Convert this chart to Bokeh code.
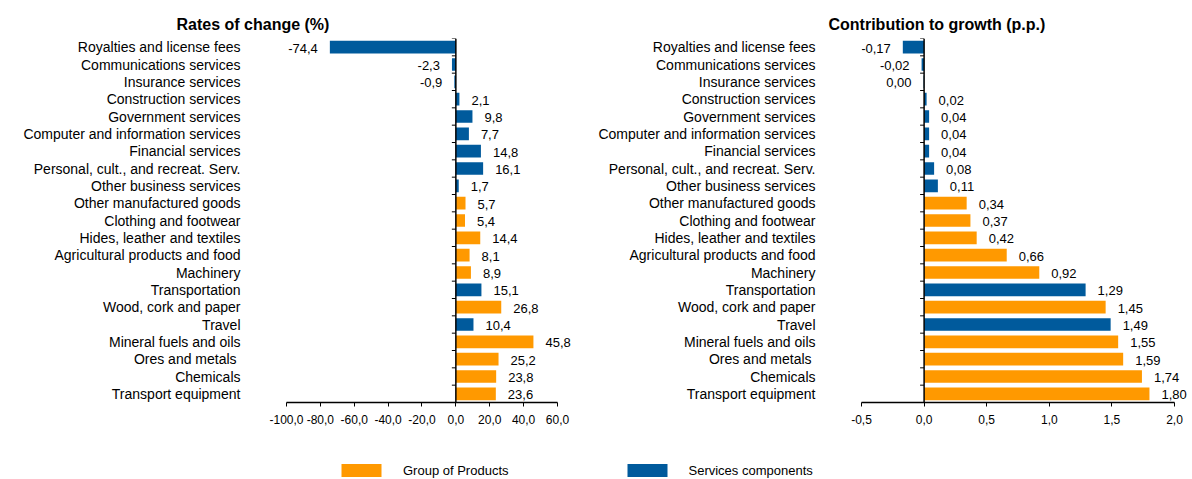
import numpy as np
from bokeh.plotting import figure
from bokeh.models import (ColumnDataSource, FixedTicker, Range1d, Span, LabelSet,
                          Legend, LegendItem)
from bokeh.layouts import column, row
from bokeh.core.properties import value
from bokeh.embed import file_html
from bokeh.resources import INLINE

# ---------------- data ----------------
categories = ["Royalties and license fees", "Communications services", "Insurance services",
              "Construction services", "Government services", "Computer and information services",
              "Financial services", "Personal, cult., and recreat. Serv.", "Other business services",
              "Other manufactured goods", "Clothing and footwear", "Hides, leather and textiles",
              "Agricultural products and food", "Machinery", "Transportation", "Wood, cork and paper",
              "Travel", "Mineral fuels and oils", "Ores and metals ", "Chemicals", "Transport equipment"]
groups = ["Services", "Services", "Services", "Services", "Services", "Services", "Services",
          "Services", "Services", "Products", "Products", "Products", "Products", "Products",
          "Services", "Products", "Services", "Products", "Products", "Products", "Products"]
rates = [-74.4, -2.3, -0.9, 2.1, 9.8, 7.7, 14.8, 16.1, 1.7, 5.7, 5.4, 14.4, 8.1, 8.9,
         15.1, 26.8, 10.4, 45.8, 25.2, 23.8, 23.6]
contrib = [-0.17, -0.02, -0.004, 0.02, 0.04, 0.04, 0.04, 0.08, 0.11, 0.34, 0.37, 0.42, 0.66, 0.92,
           1.29, 1.45, 1.49, 1.55, 1.59, 1.74, 1.80]
rate_ticks = [-100, -80, -60, -40, -20, 0, 20, 40, 60]
contrib_ticks = [-0.5, 0.0, 0.5, 1.0, 1.5, 2.0]
legend_groups = ["Products", "Services"]
legend_labels = ["Group of Products", "Services components"]

COLORS = {"Products": "#FF9900", "Services": "#005A9C"}
FONT = "Liberation Sans"


def fmt(v, d):
    s = f"{v:.{d}f}"
    if s.startswith("-") and float(s) == 0:
        s = s[1:]
    return s.replace(".", ",")


def make_panel(values, decimals, ticks, xr, bounds, title, width, bl, br, title_offset):
    n = len(categories)
    ys = [n - 1 - i for i in range(n)]
    colors = [COLORS[g] for g in groups]
    src = ColumnDataSource(dict(y=ys, x=values, color=colors))
    p = figure(width=width, height=432, x_range=Range1d(*xr), y_range=Range1d(-0.5, n - 0.5),
               output_backend="svg", toolbar_location=None,
               min_border_left=bl, min_border_right=br, min_border_top=38, min_border_bottom=30)
    p.hbar(y="y", left=0, right="x", height=0.73, fill_color="color", line_color=None, source=src)

    # value labels
    pos = dict(x=[], y=[], text=[])
    neg = dict(x=[], y=[], text=[])
    for v, y in zip(values, ys):
        d = neg if v < 0 else pos
        d["x"].append(v)
        d["y"].append(y)
        d["text"].append(fmt(v, decimals))
    for d, align, off in ((pos, "left", 12), (neg, "right", -12)):
        p.add_layout(LabelSet(x="x", y="y", text="text", source=ColumnDataSource(d),
                              x_offset=off, y_offset=-1, text_align=align, text_baseline="middle",
                              text_font=value(FONT), text_font_size="13px", text_color="#000000"))

    # zero axis line and category boundary ticks
    p.add_layout(Span(location=0, dimension="height", line_color="black", line_width=1.5))
    bnds = [k + 0.5 for k in range(n)]
    p.ray(x=[0] * len(bnds), y=bnds, length=4, angle=np.pi, length_units="screen",
          line_color="black", line_width=1)

    # y axis (category labels)
    p.yaxis.ticker = FixedTicker(ticks=ys)
    p.yaxis.major_label_overrides = {y: c for y, c in zip(ys, categories)}
    p.yaxis.axis_line_color = None
    p.yaxis.major_tick_line_color = None
    p.yaxis.minor_tick_line_color = None
    p.yaxis.major_label_standoff = 40
    p.yaxis.major_label_text_font = FONT
    p.yaxis.major_label_text_font_size = "14px"
    p.yaxis.major_label_text_color = "#000000"

    # x axis
    p.xaxis.ticker = FixedTicker(ticks=ticks)
    p.xaxis.bounds = bounds
    p.xaxis.major_label_overrides = {t: fmt(t, 1) for t in ticks}
    p.xaxis.axis_line_color = "black"
    p.xaxis.axis_line_width = 1.5
    p.xaxis.major_tick_out = 4
    p.xaxis.major_tick_in = 0
    p.xaxis.major_tick_line_color = "black"
    p.xaxis.minor_tick_line_color = None
    p.xaxis.major_label_standoff = 8
    p.xaxis.major_label_text_font = FONT
    p.xaxis.major_label_text_font_size = "12px"
    p.xaxis.major_label_text_color = "#000000"

    p.xgrid.visible = False
    p.ygrid.visible = False
    p.outline_line_color = None

    p.title.text = title
    p.title.text_font = FONT
    p.title.text_font_size = "16px"
    p.title.text_font_style = "bold"
    p.title.text_color = "#000000"
    p.title.align = "left"
    p.title.offset = title_offset
    p.title.standoff = 12
    return p


p1 = make_panel(rates, 1, rate_ticks, (-100, 79.5), (-100, 60), "Rates of change (%)",
                590, 286, 0, -110)
p2 = make_panel(contrib, 2, contrib_ticks, (-0.5, 2.1438), (-0.5, 2.0),
                "Contribution to growth (p.p.)", 602, 271, 0, -33)

# legend strip
p3 = figure(width=1192, height=47, x_range=Range1d(0, 1), y_range=Range1d(0, 1),
            output_backend="svg", toolbar_location=None,
            min_border_left=0, min_border_right=0, min_border_top=0, min_border_bottom=0)
p3.axis.visible = False
p3.xgrid.visible = False
p3.ygrid.visible = False
p3.outline_line_color = None
lsrc = ColumnDataSource(dict(y=[0.5] * len(legend_groups), w=[0] * len(legend_groups),
                             color=[COLORS[g] for g in legend_groups], label=legend_labels))
r = p3.hbar(y="y", left=0, right="w", height=0.0, fill_color="color", line_color=None,
            source=lsrc)
items = [LegendItem(label=lab, renderers=[r], index=i) for i, lab in enumerate(legend_labels)]
leg = Legend(items=items, orientation="horizontal", location=(336, 1), glyph_width=50,
             glyph_height=16, label_height=16, label_standoff=17, spacing=113, padding=0,
             margin=0, border_line_color=None, background_fill_alpha=0,
             label_text_font=FONT, label_text_font_size="13px", label_text_color="#000000")
p3.add_layout(leg)

layout = column(row(p1, p2), p3)
open("out.html", "w").write(file_html(layout, INLINE))
